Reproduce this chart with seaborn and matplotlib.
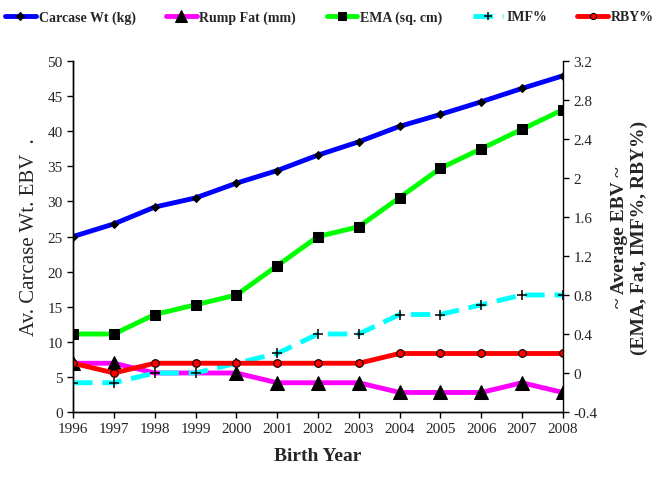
import numpy as np
import pandas as pd
import matplotlib
matplotlib.use('Agg')
import matplotlib.pyplot as plt
import seaborn as sns

years = list(range(1996, 2009))
carcaseWt = [25.0, 26.8, 29.2, 30.5, 32.6, 34.4, 36.6, 38.5, 40.7, 42.4, 44.2, 46.1, 47.9]
rumpFat = [0.1, 0.1, 0.0, 0.0, 0.0, -0.1, -0.1, -0.1, -0.2, -0.2, -0.2, -0.1, -0.2]
ema = [0.4, 0.4, 0.6, 0.7, 0.8, 1.1, 1.4, 1.5, 1.8, 2.1, 2.3, 2.5, 2.7]
imf = [-0.1, -0.1, 0.0, 0.0, 0.1, 0.2, 0.4, 0.4, 0.6, 0.6, 0.7, 0.8, 0.8]
rby = [0.1, 0.0, 0.1, 0.1, 0.1, 0.1, 0.1, 0.1, 0.2, 0.2, 0.2, 0.2, 0.2]

df = pd.DataFrame({'Year': years, 'Carcase': carcaseWt, 'Fat': rumpFat,
                   'EMA': ema, 'IMF': imf, 'RBY': rby})

sns.set_style('ticks')
plt.rcParams['font.family'] = ['Liberation Serif', 'DejaVu Serif']

fig = plt.figure(figsize=(6.59, 4.85), dpi=100)
ax = fig.add_axes([0.111, 0.1485, 0.743, 0.7235])
ax2 = ax.twinx()

#Carcase weight on the left axis
sns.lineplot(data=df, x='Year', y='Carcase', ax=ax, color='#0000FF', lw=3.5,
             marker='D', markersize=4.5, markerfacecolor='black', markeredgecolor='black',
             label='Carcase Wt (kg)', legend=False)

#The rest go on the right axis
sns.lineplot(data=df, x='Year', y='Fat', ax=ax2, color='#FF00FF', lw=3.5,
             marker='^', markersize=10, markerfacecolor='black', markeredgecolor='black',
             markevery=[0, 1, 4, 5, 6, 7, 8, 9, 10, 11, 12],
             label='Rump Fat (mm)', legend=False)
sns.lineplot(data=df, x='Year', y='EMA', ax=ax2, color='#00FF00', lw=3.5,
             marker='s', markersize=6.5, markerfacecolor='black', markeredgecolor='black',
             label='EMA (sq. cm)', legend=False)
sns.lineplot(data=df, x='Year', y='IMF', ax=ax2, color='#00FFFF', lw=3.5, ls=(0, (4, 2)),
             marker='+', markersize=7, markeredgewidth=1.1, markeredgecolor='black',
             label='IMF%', legend=False)
sns.lineplot(data=df, x='Year', y='RBY', ax=ax2, color='#FF0000', lw=3.5,
             marker='o', markersize=5.5, markerfacecolor='#FF0000', markeredgecolor='black',
             markeredgewidth=0.8, label='RBY%', legend=False)

ax.set_xlim(1996, 2008)
ax.set_ylim(0, 50)
ax2.set_ylim(-0.4, 3.2)
ax.set_xticks(years)
ax.set_yticks(np.arange(0, 51, 5))
rightTicks = np.round(np.arange(-0.4, 3.21, 0.4), 1)
ax2.set_yticks(rightTicks)
ax2.set_yticklabels([f'{v:g}' for v in rightTicks])

for a in (ax, ax2):
    a.tick_params(labelsize=11, length=4, width=1, color='black')
    for s in a.spines.values():
        s.set_color('black')
        s.set_linewidth(1)
    a.spines['top'].set_visible(False)
ax.spines['right'].set_visible(False)
ax2.spines['right'].set_visible(True)

ax.set_xlabel('Birth Year', fontsize=14, fontweight='bold', labelpad=8)
ax.set_ylabel('Av. Carcase Wt. EBV  .', fontsize=15, labelpad=6)
ax2.set_ylabel('~ Average EBV ~\n(EMA, Fat, IMF%, RBY%)', fontsize=14, fontweight='bold',
               labelpad=10)

handles = ax.get_lines()[:1] + ax2.get_lines()[:4]
labels = ['Carcase Wt (kg)', 'Rump Fat (mm)', 'EMA (sq. cm)', 'IMF%', 'RBY%']
fig.legend(handles, labels, loc='upper center', bbox_to_anchor=(0.5, 1.0), ncol=5,
           frameon=False, prop={'weight': 'bold', 'size': 10}, handlelength=2.2,
           handletextpad=0.2, columnspacing=2.2, borderaxespad=0.4, markerscale=0.8)

fig.savefig('out.png', dpi=100)
